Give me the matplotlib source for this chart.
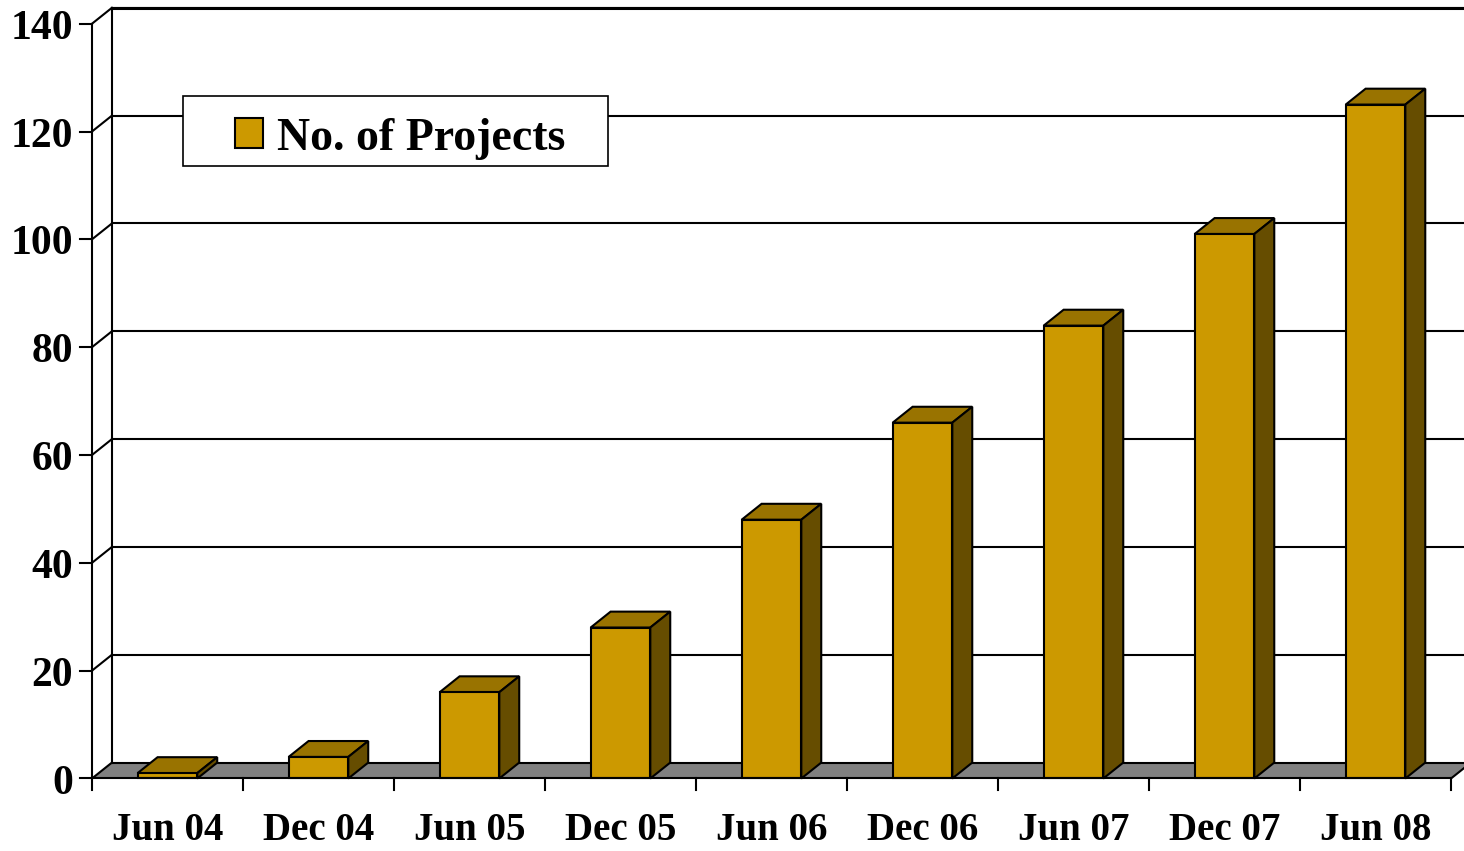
import matplotlib
matplotlib.use('Agg')
import matplotlib.pyplot as plt
from matplotlib.patches import Polygon, Rectangle

# values
categories = ['Jun 04', 'Dec 04', 'Jun 05', 'Dec 05', 'Jun 06',
              'Dec 06', 'Jun 07', 'Dec 07', 'Jun 08']
projects = [1, 4, 16, 28, 48, 66, 84, 101, 125]
y_ticks = [0, 20, 40, 60, 80, 100, 120, 140]
series_name = 'No. of Projects'

FRONT = '#CC9900'
TOP = '#997300'
SIDE = '#664D00'
FLOOR = '#808080'
FONT = 'Liberation Serif'

# pseudo-3d depth offset in data units
DX = 0.132
DY = 2.95
BAR_W = 0.395
N = len(categories)


def create_plot():
    fig = plt.figure(figsize=(14.64, 8.51), dpi=100)
    ax = fig.add_axes([0, 0, 1, 1])
    ax.set_xlim(-0.609, 9.086)
    ax.set_ylim(-13.45, 144.4)
    ax.axis('off')

    lw = 1.5
    top = y_ticks[-1]
    xr = 9.2

    # floor
    ax.add_patch(Polygon([(0, 0), (N, 0), (N + DX, DY), (0 + DX, DY)],
                         closed=True, facecolor=FLOOR, edgecolor='none', zorder=1))
    ax.plot([N, N + DX], [0, DY], color='black', lw=lw, zorder=2)

    # back wall grid + left wall diagonals
    for v in y_ticks:
        ax.plot([DX, xr], [v + DY, v + DY], color='black', lw=lw, zorder=2)
        ax.plot([0, DX], [v, v + DY], color='black', lw=lw, zorder=2)
        ax.plot([-0.08, 0], [v, v], color='black', lw=lw, zorder=2)
        ax.text(-0.126, v - 2.8, str(v), ha='right', va='baseline', fontsize=30,
                fontweight='bold', family=FONT)
    ax.plot([DX, DX], [DY, top + DY], color='black', lw=lw, zorder=2)
    ax.plot([DX, xr], [top + DY, top + DY], color='black', lw=2.2, zorder=2)
    ax.plot([0, 0], [0, top], color='black', lw=lw, zorder=2)

    # front axis
    ax.plot([0, N], [0, 0], color='black', lw=lw, zorder=6)
    for i in range(N + 1):
        ax.plot([i, i], [0, -2.2], color='black', lw=lw, zorder=6)
    for i, name in enumerate(categories):
        ax.text(i + 0.5, -11.4, name, ha='center', va='baseline', fontsize=28,
                fontweight='bold', family=FONT)

    # bars
    for i, v in enumerate(projects):
        x0 = i + 0.5 - BAR_W / 2
        x1 = x0 + BAR_W
        ax.add_patch(Polygon([(x0, v), (x1, v), (x1 + DX, v + DY), (x0 + DX, v + DY)],
                             closed=True, facecolor=TOP, edgecolor='black',
                             lw=lw, joinstyle='miter', zorder=4))
        ax.add_patch(Polygon([(x1, 0), (x1 + DX, DY), (x1 + DX, v + DY), (x1, v)],
                             closed=True, facecolor=SIDE, edgecolor='black',
                             lw=lw, joinstyle='miter', zorder=4))
        ax.add_patch(Rectangle((x0, 0), BAR_W, v, facecolor=FRONT,
                               edgecolor='black', lw=lw, joinstyle='miter', zorder=5))

    # legend box
    tr = ax.transAxes
    ax.add_patch(Rectangle((0.125, 0.8049), 0.2903, 0.0823, transform=tr,
                           facecolor='white', edgecolor='black', lw=1.2, zorder=7))
    ax.add_patch(Rectangle((0.1605, 0.8261), 0.0191, 0.0352, transform=tr,
                           facecolor=FRONT, edgecolor='black', lw=1.5, zorder=8))
    ax.text(0.1892, 0.8237, series_name, transform=tr, ha='left', va='baseline',
            fontsize=33, fontweight='bold', family=FONT, zorder=8)

    fig.savefig('out.png', dpi=100)


if __name__ == '__main__':
    create_plot()
